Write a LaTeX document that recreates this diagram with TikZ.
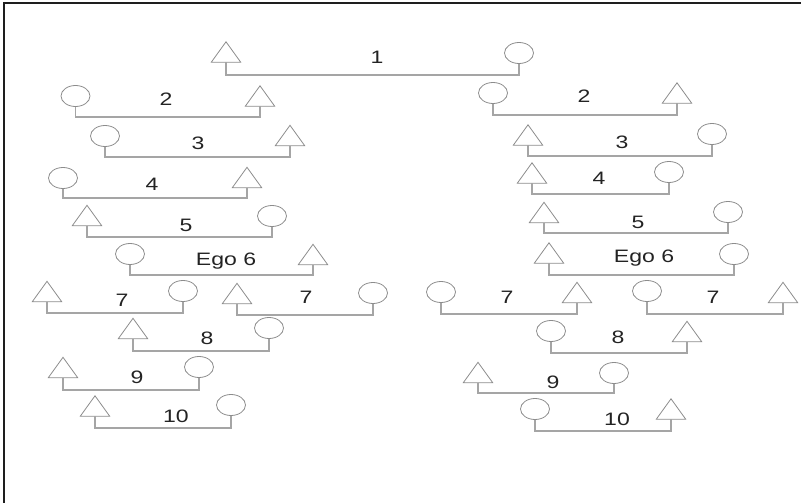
\documentclass[tikz,border=0pt]{standalone}
\usepackage{fontspec}
\usepackage{graphicx}
\setmainfont{Liberation Sans}
\definecolor{shapec}{RGB}{140,140,140}
\definecolor{connc}{RGB}{165,165,165}
\definecolor{textc}{RGB}{35,35,35}
\definecolor{framec}{RGB}{30,30,30}
\newcommand\lbl[1]{\scalebox{1.28}[1]{#1}}
\newcommand\pairline[3]{\draw[conn] (#1.south) -- (#1.south |- 0,#3) -| (#2.south);}
\tikzset{
  circ/.style={ellipse, draw=shapec, line width=0.8pt, inner sep=0pt, minimum width=29pt, minimum height=21pt},
  tri/.style={rectangle, inner sep=0pt, minimum width=29pt, minimum height=20pt,
    append after command={\pgfextra{\draw[draw=shapec, line width=0.8pt, line join=miter]
      (\tikzlastnode.south west) -- (\tikzlastnode.north) -- (\tikzlastnode.south east) -- cycle;}}},
  conn/.style={draw=connc, line width=1.3pt},
  num/.style={inner sep=0pt, text height=12.9pt, text depth=0pt, text=textc, font=\fontsize{18}{20}\selectfont},
}
\usetikzlibrary{shapes.geometric}
\begin{document}
\begin{tikzpicture}[x=1pt,y=-1pt]
\useasboundingbox (0,0) rectangle (801,503);
\draw[framec, line width=2pt] (3.5,503) -- (3.5,3.5) -- (801,3.5);
% Row 1
\node[tri] (t1) at (226,52) {};
\node[circ] (c1) at (519,53) {};
\pairline{t1}{c1}{75}
\node[num] (l1) at (377,57) {\lbl{1}};
% Row 2
\node[circ] (c2l) at (75.5,96) {};
\node[tri] (t2l) at (260,96) {};
\pairline{c2l}{t2l}{117}
\node[num] (l2l) at (166,99) {\lbl{2}};
\node[circ] (c2r) at (493,93) {};
\node[tri] (t2r) at (677,93) {};
\pairline{c2r}{t2r}{115}
\node[num] (l2r) at (584,96) {\lbl{2}};
% Row 3
\node[circ] (c3l) at (105,136) {};
\node[tri] (t3l) at (290,135.5) {};
\pairline{c3l}{t3l}{157}
\node[num] (l3l) at (198,143) {\lbl{3}};
\node[tri] (t3r) at (528,135) {};
\node[circ] (c3r) at (712,134) {};
\pairline{t3r}{c3r}{156}
\node[num] (l3r) at (622,142) {\lbl{3}};
% Row 4
\node[circ] (c4l) at (63,178) {};
\node[tri] (t4l) at (247,177.5) {};
\pairline{c4l}{t4l}{198}
\node[num] (l4l) at (152,184) {\lbl{4}};
\node[tri] (t4r) at (532,173) {};
\node[circ] (c4r) at (669,172) {};
\pairline{t4r}{c4r}{194}
\node[num] (l4r) at (599,178) {\lbl{4}};
% Row 5
\node[tri] (t5l) at (87,215.5) {};
\node[circ] (c5l) at (272,216) {};
\pairline{t5l}{c5l}{237}
\node[num] (l5l) at (186,225) {\lbl{5}};
\node[tri] (t5r) at (544,212.5) {};
\node[circ] (c5r) at (728,212) {};
\pairline{t5r}{c5r}{233}
\node[num] (l5r) at (638,222) {\lbl{5}};
% Row 6
\node[circ] (c6l) at (130,254) {};
\node[tri] (t6l) at (313,254.5) {};
\pairline{c6l}{t6l}{275}
\node[num] (l6l) at (226,259) {\lbl{Ego 6}};
\node[tri] (t6r) at (549,253) {};
\node[circ] (c6r) at (734,254) {};
\pairline{t6r}{c6r}{275}
\node[num] (l6r) at (644,256) {\lbl{Ego 6}};
% Row 7
\node[tri] (t7a) at (47,291.5) {};
\node[circ] (c7a) at (183,291) {};
\pairline{t7a}{c7a}{313}
\node[num] (l7a) at (122,300) {\lbl{7}};
\node[tri] (t7b) at (237,293.5) {};
\node[circ] (c7b) at (373,293) {};
\pairline{t7b}{c7b}{315}
\node[num] (l7b) at (306,297) {\lbl{7}};
\node[circ] (c7c) at (441,292) {};
\node[tri] (t7c) at (577,292.5) {};
\pairline{c7c}{t7c}{314}
\node[num] (l7c) at (507,297) {\lbl{7}};
\node[circ] (c7d) at (647,291) {};
\node[tri] (t7d) at (783,292.5) {};
\pairline{c7d}{t7d}{314}
\node[num] (l7d) at (713,297) {\lbl{7}};
% Row 8
\node[tri] (t8l) at (133,328.5) {};
\node[circ] (c8l) at (269,328) {};
\pairline{t8l}{c8l}{351}
\node[num] (l8l) at (207,338) {\lbl{8}};
\node[circ] (c8r) at (551,331) {};
\node[tri] (t8r) at (687,331.5) {};
\pairline{c8r}{t8r}{353}
\node[num] (l8r) at (618,337) {\lbl{8}};
% Row 9
\node[tri] (t9l) at (63,367.5) {};
\node[circ] (c9l) at (199,367) {};
\pairline{t9l}{c9l}{390}
\node[num] (l9l) at (137,377) {\lbl{9}};
\node[tri] (t9r) at (478,372.5) {};
\node[circ] (c9r) at (614,373) {};
\pairline{t9r}{c9r}{393}
\node[num] (l9r) at (553,382) {\lbl{9}};
% Row 10
\node[tri] (t10l) at (95,406) {};
\node[circ] (c10l) at (231,405) {};
\pairline{t10l}{c10l}{428}
\node[num] (l10l) at (176,416) {\lbl{10}};
\node[circ] (c10r) at (535,409) {};
\node[tri] (t10r) at (671,409) {};
\pairline{c10r}{t10r}{431}
\node[num] (l10r) at (617,419) {\lbl{10}};
\end{tikzpicture}
\end{document}
